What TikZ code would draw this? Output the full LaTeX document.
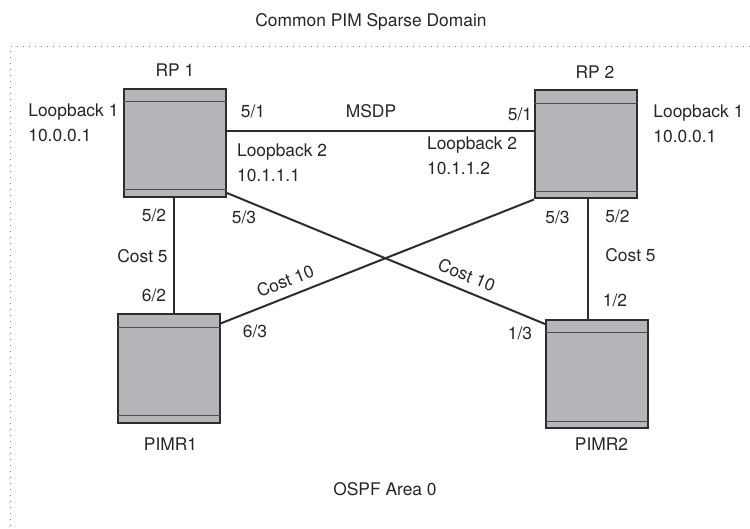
\documentclass[tikz,border=0pt]{standalone}
\usepackage{fontspec}
\setmainfont{TeX Gyre Heros}
\usetikzlibrary{positioning}
\definecolor{boxgray}{RGB}{181,182,185}
\definecolor{linegray}{RGB}{45,45,45}
\definecolor{textgray}{RGB}{38,38,38}
\tikzset{
    every node/.style={font=\fontsize{8.7}{12.5}\selectfont,text=textgray,inner sep=0pt},
    router/.style={rectangle,draw=linegray,fill=boxgray,line width=1pt,minimum width=51pt,minimum height=54pt},
    bar/.style={draw=linegray!85,line width=0.5pt},
    link/.style={draw=linegray,line width=1pt},
    lbl/.style={anchor=base west,align=left},
    port/.style={anchor=base},
    areaframe/.style={draw=gray,line width=0.5pt,dash pattern=on 0.5pt off 2.5pt}
}
\begin{document}
\begin{tikzpicture}[x=0.5pt,y=-0.5pt]
    \useasboundingbox (0,0) rectangle (750,529);
    \draw[areaframe] (750,47) -- (10,47) -- (10,529);
    \node[port] (dom) at (371,27) {Common PIM Sparse Domain};
    \node[port] (ospf) at (385,495) {OSPF Area 0};

    % routers
    \node[router] (rp1) at (175,143) {};
    \node[router] (rp2) at (586,144.5) {};
    \node[router] (pimr1) at (168.5,368.5) {};
    \node[router] (pimr2) at (597,374) {};
    \foreach \r in {rp1,rp2,pimr1,pimr2}{
        \draw[bar] ([yshift=-7pt]\r.north west) -- ([yshift=-7pt]\r.north east);
        \draw[bar] ([yshift=4pt]\r.south west) -- ([yshift=4pt]\r.south east);
    }
    \node[above=5.5pt of rp1] (rp1name) {RP 1};
    \node[above=5.5pt of rp2,xshift=4.5pt] (rp2name) {RP 2};
    \node[below=6.8pt of pimr1,xshift=1pt] (pimr1name) {PIMR1};
    \node[below=4.3pt of pimr2,xshift=2.25pt] (pimr2name) {PIMR2};

    % loopbacks (base = last line)
    \node[lbl] (lb1a) at (28,141.7) {Loopback 1\\10.0.0.1};
    \node[lbl] (lb1b) at (653,143) {Loopback 1\\10.0.0.1};
    \node[lbl] (lb2a) at (236.7,181.7) {Loopback 2\\10.1.1.1};
    \node[lbl] (lb2b) at (426.7,175) {Loopback 2\\10.1.1.2};

    % links
    \draw[link] ([yshift=6pt]rp1.east) -- ([yshift=6pt]rp1.east -| rp2.west);
    \draw[link] ([xshift=-0.5pt]rp1.south) -- ([xshift=-0.5pt]rp1.south |- pimr1.north);
    \draw[link] ([xshift=1pt]rp2.south) -- ([xshift=1pt]rp2.south |- pimr2.north);
    \draw[link] ([yshift=2.5pt]rp1.south east) -- ([yshift=-2.5pt]pimr2.north west)
        node[pos=0.735,above=4pt,sloped] (c10b) {Cost 10};
    \draw[link] ([yshift=-5pt]pimr1.north east) -- (rp2.south west)
        node[pos=0.225,above=4pt,sloped] (c10a) {Cost 10};

    % ports and costs
    \node[port] (p51a) at (253,118) {5/1};
    \node[port] (msdp) at (371,118) {MSDP};
    \node[port] (p51b) at (520,121) {5/1};
    \node[port] (p52a) at (154,221.7) {5/2};
    \node[port] (p53a) at (244,224) {5/3};
    \node[port] (p53b) at (557.5,224) {5/3};
    \node[port] (p52b) at (617.5,223) {5/2};
    \node[anchor=base east] (c5a) at (168,263) {Cost 5};
    \node[anchor=base west] (c5b) at (605,262) {Cost 5};
    \node[port] (p62) at (154,301.7) {6/2};
    \node[port] (p63) at (255,338) {6/3};
    \node[port] (p13) at (520,340) {1/3};
    \node[port] (p12) at (615,306.7) {1/2};
\end{tikzpicture}
\end{document}
